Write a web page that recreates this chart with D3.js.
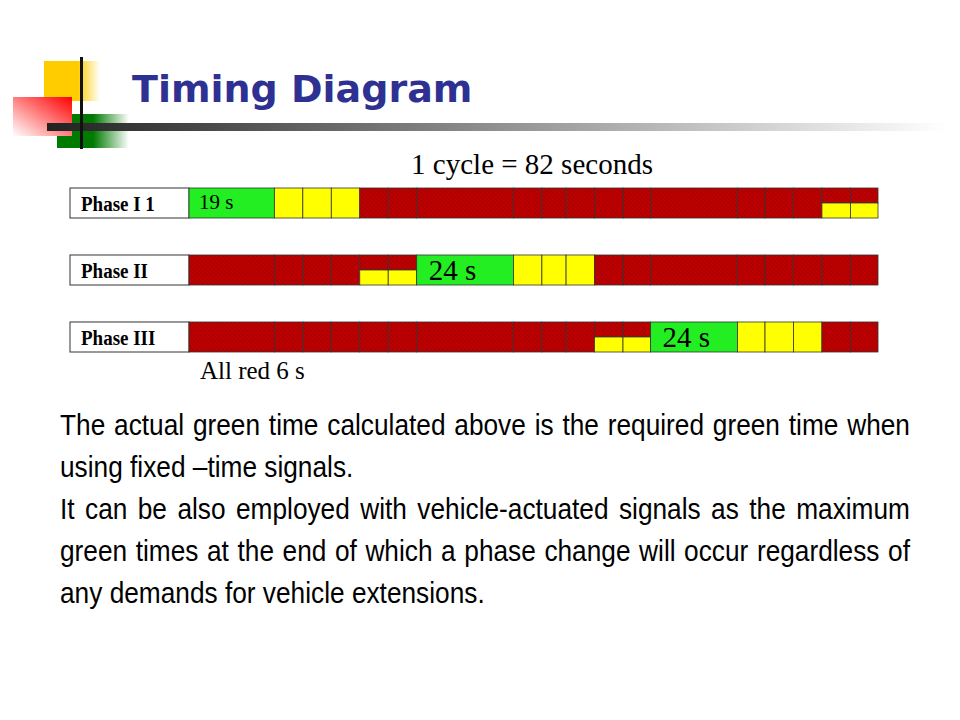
<!DOCTYPE html>
<html>
<head>
<meta charset="utf-8">
<title>Timing Diagram</title>
<style type="text/css">
body{margin:0;background:#fff;overflow:hidden;}
.para{position:absolute;left:60px;top:404px;width:955px;transform:scaleX(0.89);transform-origin:0 0;font-family:"Liberation Sans",Arial,sans-serif;font-size:29.5px;line-height:42px;text-align:justify;color:#000;}
</style>
</head>
<body>
<svg id="chart" width="960" height="720" style="position:absolute;left:0;top:0"></svg>
<div class="para">The actual green time calculated above is the required green time when using fixed &ndash;time signals.<br>It can be also employed with vehicle-actuated signals as the maximum green times at the end of which a phase change will occur regardless of any demands for vehicle extensions.</div>
<script src="https://cdn.jsdelivr.net/npm/d3@7"></script>
<script type="text/javascript">
// column widths of the grid (relative units, diagram not to scale)
var colWidths = [3,1,1,1,1,1,3.4,1,0.85,1,1,0.97,3.05,0.97,1,1,1,0.97];
var phases = ["Phase I 1","Phase II","Phase III"];
// states per column: g = green, y = yellow, r = red, ry = red over yellow
var phaseStates = [
    ["g","y","y","y","r","r","r","r","r","r","r","r","r","r","r","r","ry","ry"],
    ["r","r","r","r","ry","ry","g","y","y","y","r","r","r","r","r","r","r","r"],
    ["r","r","r","r","r","r","r","r","r","r","ry","ry","g","y","y","y","r","r"]
];
var greenLabels = ["19 s","24 s","24 s"];
var cycleLabel = "1 cycle = 82 seconds";
var allRedLabel = "All red 6 s";

var svg = d3.select('#chart');
var defs = svg.append('defs');

// hatched red
var pat = defs.append('pattern').attr('id','hatch').attr('patternUnits','userSpaceOnUse')
    .attr('width',3).attr('height',3).attr('patternTransform','rotate(-45)');
pat.append('rect').attr('width',3).attr('height',3).attr('fill','#c00000');
pat.append('line').attr('x1',0).attr('y1',0).attr('x2',0).attr('y2',3).attr('stroke','#8a0000').attr('stroke-width',1);

// header decoration
var g1 = defs.append('linearGradient').attr('id','barfade');
g1.append('stop').attr('offset','0%').attr('stop-color','#222');
g1.append('stop').attr('offset','100%').attr('stop-color','#fff');
var g2 = defs.append('linearGradient').attr('id','redfade').attr('x1','1').attr('x2','0').attr('y1','0').attr('y2','1');
g2.append('stop').attr('offset','0%').attr('stop-color','#ff0000');
g2.append('stop').attr('offset','100%').attr('stop-color','#fff');
var g3 = defs.append('linearGradient').attr('id','greenfade');
g3.append('stop').attr('offset','50%').attr('stop-color','#007a00');
g3.append('stop').attr('offset','100%').attr('stop-color','#fff');
var g4 = defs.append('linearGradient').attr('id','yellowfade');
g4.append('stop').attr('offset','60%').attr('stop-color','#ffcc00');
g4.append('stop').attr('offset','100%').attr('stop-color','#fff');

svg.append('rect').attr('x',44).attr('y',61).attr('width',56).attr('height',40).attr('fill','url(#yellowfade)');
svg.append('rect').attr('x',57).attr('y',114).attr('width',72).attr('height',34).attr('fill','url(#greenfade)');
svg.append('rect').attr('x',13).attr('y',97).attr('width',59).attr('height',39).attr('fill','url(#redfade)');
svg.append('rect').attr('x',47).attr('y',123).attr('width',900).attr('height',8).attr('fill','url(#barfade)');
svg.append('rect').attr('x',80).attr('y',57).attr('width',3).attr('height',92).attr('fill','#111');
svg.append('text').attr('x',132).attr('y',102).text('Timing Diagram')
    .style('font-family','"DejaVu Sans",Verdana,sans-serif').style('font-weight','bold')
    .style('font-size','38px').attr('fill','#2e3192');

// grid
var edges = [0];
colWidths.forEach(function(w,i){edges.push(edges[i]+w);});
var x = d3.scaleLinear().domain([0,edges[edges.length-1]]).range([189,878]);
var y = d3.scaleBand().domain(phases).range([188,352]).paddingInner(0.552);
var serif = '"Liberation Serif","Times New Roman",serif';

svg.append('text').attr('x',532).attr('y',174).attr('text-anchor','middle')
    .style('font-family',serif).style('font-size','29px').text(cycleLabel);

var rows = svg.selectAll('g.row').data(phases).enter().append('g').attr('class','row')
    .attr('transform',function(d){return 'translate(0,'+y(d)+')';});
var h = y.bandwidth();

rows.append('rect').attr('x',70).attr('y',0).attr('width',119).attr('height',h)
    .attr('fill','#fff').attr('stroke','#333');
rows.append('text').attr('x',81).attr('y',h/2+7).text(function(d){return d;})
    .attr('transform','translate(81,0) scale(0.95,1.1) translate(-81,-1.5)')
    .style('font-family',serif).style('font-weight','bold').style('font-size','20px');

rows.each(function(p,pi){
    var row = d3.select(this);
    phaseStates[pi].forEach(function(s,ci){
        var x0 = x(edges[ci]), w = x(edges[ci+1])-x0;
        if(s==='ry'){
            row.append('rect').attr('x',x0).attr('y',0).attr('width',w).attr('height',h/2)
                .attr('fill','url(#hatch)').attr('stroke','#333').attr('stroke-width',0.8);
            row.append('rect').attr('x',x0).attr('y',h/2).attr('width',w).attr('height',h/2)
                .attr('fill','#ffff00').attr('stroke','#333').attr('stroke-width',0.8);
        } else {
            row.append('rect').attr('x',x0).attr('y',0).attr('width',w).attr('height',h)
                .attr('fill',s==='g'?'#22ee22':s==='y'?'#ffff00':'url(#hatch)')
                .attr('stroke','#333').attr('stroke-width',0.8);
        }
        if(s==='g'){
            row.append('text').attr('x',x0+(pi===0?10:12)).attr('y',pi===0?h/2+6:h/2+10)
                .style('font-family',serif).style('font-size',pi===0?'21px':'29px').text(greenLabels[pi]);
        }
    });
});

svg.append('text').attr('x',200).attr('y',379)
    .style('font-family',serif).style('font-size','25px').text(allRedLabel);
</script>
</body>
</html>
